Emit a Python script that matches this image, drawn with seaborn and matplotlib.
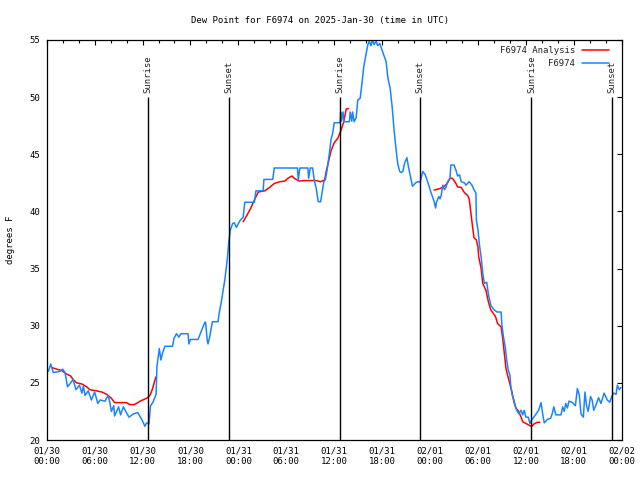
import matplotlib
matplotlib.use('Agg')
import pandas as pd
import matplotlib.pyplot as plt
from matplotlib.ticker import MultipleLocator, FixedLocator, FixedFormatter
import seaborn as sns

# Observaciones F6974 (horas desde 2025-01-30 00:00 UTC, punto de rocío en F)
obs_hours = [0.2, 0.5, 0.83, 1.66, 2.0, 2.3, 2.6, 2.9, 3.3, 3.66, 4.1, 4.4, 4.6, 4.8,
             5.2, 5.6, 6.0, 6.4, 6.7, 7.3, 7.7, 7.9, 8.1, 8.4, 8.5, 9.0, 9.25, 9.6,
             9.9, 10.3, 10.9, 11.4, 11.9, 12.3, 12.5, 12.8, 13.0, 13.3, 13.7, 13.8,
             14.1, 14.3, 14.5, 14.8, 15.75, 15.95, 16.25, 16.55, 16.8, 17.7, 17.8,
             18.0, 18.95, 19.8, 19.9, 20.1, 20.2, 20.4, 20.75, 21.45, 21.6, 21.9,
             22.1, 22.3, 22.6, 22.8, 23.0, 23.3, 23.5, 23.75, 24.2, 24.6, 24.8,
             26.0, 26.2, 27.1, 27.2, 28.3, 28.5, 31.4, 31.5, 31.7, 32.7, 32.8, 33.0,
             33.3, 33.5, 33.75, 34.0, 34.3, 34.5, 34.7, 34.9, 35.1, 35.4, 35.6,
             35.8, 36.0, 36.75, 36.8, 36.9, 37.1, 37.2, 37.9, 38.0, 38.2, 38.3,
             38.5, 38.75, 38.95, 39.25, 39.5, 39.7, 40.0, 40.2, 40.4, 40.6, 40.8,
             41.0, 41.25, 41.45, 41.7, 41.9, 42.3, 42.5, 42.7, 42.8, 43.0, 43.25,
             43.5, 43.75, 43.95, 44.2, 44.4, 44.6, 44.8, 45.1, 45.3, 45.6, 45.8,
             46.2, 46.45, 46.75, 47.1, 47.4, 47.7, 48.1, 48.3, 48.5, 48.7, 48.8,
             49.1, 49.25, 49.4, 49.6, 49.8, 50.0, 50.2, 50.5, 50.6, 51.0, 51.25,
             51.45, 51.7, 51.9, 52.3, 52.5, 52.9, 53.25, 53.5, 53.75, 53.8, 54.0,
             54.2, 54.4, 54.6, 54.8, 55.1, 55.3, 55.6, 56.0, 56.4, 56.9, 57.0,
             57.2, 57.4, 57.6, 57.8, 58.0, 58.1, 58.3, 58.5, 58.75, 59.1, 59.4,
             59.6, 59.8, 60.0, 60.3, 60.5, 60.75, 61.0, 61.3, 61.6, 61.9, 62.1,
             62.3, 62.7, 63.1, 63.3, 63.5, 63.75, 64.4, 64.6, 64.8, 65.0, 65.2,
             65.4, 65.8, 66.2, 66.45, 66.7, 66.9, 67.2, 67.4, 67.6, 67.8, 68.1,
             68.3, 68.5, 68.75, 69.1, 69.4, 69.8, 70.2, 70.5, 70.75, 71.0, 71.3,
             71.45, 71.7, 71.9]
obs_dewpt = [26.0, 26.65, 25.9, 26.0, 26.2, 25.9, 24.66, 24.9, 25.3, 24.4, 24.8, 24.1,
             24.7, 23.9, 24.3, 23.5, 24.2, 23.2, 23.5, 23.4, 23.9, 23.3, 22.5, 23.0,
             22.1, 22.9, 22.2, 22.9, 22.5, 22.0, 22.3, 22.4, 21.8, 21.2, 21.5, 21.4,
             23.0, 23.3, 24.0, 26.4, 28.0, 27.0, 27.6, 28.2, 28.2, 28.9, 29.3, 29.0,
             29.3, 29.3, 28.4, 28.8, 28.8, 30.3, 30.3, 28.7, 28.4, 29.0, 30.35,
             30.35, 31.1, 32.25, 33.1, 34.0, 35.75, 37.35, 38.4, 38.96, 39.0, 38.6,
             39.2, 39.5, 40.8, 40.8, 41.8, 41.8, 42.8, 42.8, 43.8, 43.8, 42.75,
             43.8, 43.8, 42.9, 43.8, 43.8, 42.75, 42.0, 40.85, 40.85, 41.7, 42.6,
             42.8, 43.6, 45.1, 46.3, 46.8, 47.76, 47.76, 48.7, 47.9, 48.7, 47.85,
             47.85, 48.7, 47.9, 48.7, 47.85, 48.2, 49.75, 49.9, 51.35, 52.66, 53.8,
             54.56, 54.9, 54.5, 55.0, 54.6, 54.9, 54.5, 54.7, 54.3, 53.5, 53.1,
             51.8, 51.4, 50.8, 49.2, 47.1, 45.4, 44.2, 43.5, 43.4, 43.5, 44.2,
             44.7, 43.9, 42.9, 42.2, 42.5, 42.6, 42.55, 43.5, 43.2, 42.6, 41.7,
             41.3, 40.9, 40.3, 40.8, 41.3, 41.1, 41.4, 42.3, 41.9, 42.1, 42.6,
             42.9, 44.06, 44.06, 43.6, 43.1, 43.2, 42.6, 42.5, 42.3, 42.6, 42.3,
             41.9, 41.6, 39.25, 38.4, 37.0, 36.0, 34.6, 33.7, 33.8, 32.8, 31.8,
             31.4, 31.2, 31.2, 30.06, 29.0, 28.2, 27.0, 26.1, 25.7, 24.8, 23.9,
             23.5, 22.77, 22.3, 22.6, 22.2, 22.6, 22.0, 22.0, 21.45, 21.8, 22.0,
             22.3, 22.6, 23.27, 22.3, 21.5, 21.8, 21.9, 22.3, 22.9, 22.2, 22.2,
             22.9, 22.5, 23.2, 22.8, 23.4, 23.3, 23.0, 24.5, 23.9, 22.3, 22.0,
             24.2, 23.0, 22.5, 23.8, 23.5, 22.6, 23.0, 23.7, 23.2, 24.1, 23.5,
             23.3, 23.8, 24.1, 24.0, 24.8, 24.4, 24.6]

# Análisis F6974 (tres tramos)
ana1_hours = [0.6, 1.25, 1.9, 2.5, 3.0, 3.3, 3.75, 4.4, 5.0, 5.4, 6.25, 6.9, 7.5, 8.1,
              8.5, 10.0, 10.4, 11.0, 11.7, 12.5, 12.8, 13.0, 13.3, 13.65]
ana1_dewpt = [26.35, 26.2, 26.07, 25.77, 25.6, 25.3, 25.0, 24.9, 24.66, 24.4, 24.3,
              24.2, 24.0, 23.65, 23.27, 23.27, 23.1, 23.1, 23.4, 23.65, 23.8, 24.0,
              24.6, 25.5]
ana2_hours = [24.6, 25.1, 25.6, 26.0, 26.5, 27.3, 27.9, 28.5, 29.2, 29.8, 30.2, 30.7,
              31.0, 31.6, 32.3, 33.1, 33.75, 34.3, 34.8, 35.0, 35.3, 35.6, 36.0,
              36.45, 36.75, 37.2, 37.5, 37.8]
ana2_dewpt = [39.1, 39.7, 40.35, 41.0, 41.7, 41.8, 42.1, 42.45, 42.6, 42.65, 42.9,
              43.1, 42.9, 42.66, 42.7, 42.7, 42.7, 42.6, 42.75, 43.5, 44.4, 45.3,
              46.0, 46.4, 46.9, 47.85, 48.96, 49.0]
ana3_hours = [48.5, 49.25, 49.8, 50.2, 50.5, 50.8, 51.2, 51.45, 51.9, 52.3, 52.7,
              52.9, 53.1, 53.3, 53.5, 53.8, 54.0, 54.1, 54.4, 54.6, 55.0, 55.3,
              55.6, 56.2, 56.45, 56.9, 57.1, 57.3, 57.5, 57.7, 58.0, 58.25, 58.5,
              58.75, 59.1, 59.4, 59.6, 60.0, 60.4, 60.7, 61.0, 61.45, 61.75]
ana3_dewpt = [41.87, 42.0, 42.2, 42.5, 42.9, 42.9, 42.5, 42.15, 42.1, 41.65, 41.4,
              41.1, 39.97, 38.8, 37.7, 37.5, 36.9, 36.0, 35.0, 33.7, 33.1, 32.1,
              31.4, 30.8, 30.2, 29.9, 28.9, 27.6, 26.3, 25.7, 24.9, 24.2, 23.35,
              22.8, 22.5, 22.0, 21.6, 21.45, 21.3, 21.17, 21.4, 21.55, 21.55]

sun_hours = [12.7, 22.85, 36.75, 46.7, 60.7, 70.75]
sun_labels = ['Sunrise', 'Sunset', 'Sunrise', 'Sunset', 'Sunrise', 'Sunset']

tick_hours = [0, 6, 12, 18, 24, 30, 36, 42, 48, 54, 60, 66, 72]
tick_labels = ['01/30\n00:00', '01/30\n06:00', '01/30\n12:00', '01/30\n18:00',
               '01/31\n00:00', '01/31\n06:00', '01/31\n12:00', '01/31\n18:00',
               '02/01\n00:00', '02/01\n06:00', '02/01\n12:00', '02/01\n18:00',
               '02/02\n00:00']

FS = 6.5

sns.set_style('white')
plt.rcParams['font.family'] = ['DejaVu Sans Mono', 'DejaVu Sans']
plt.rcParams['font.size'] = FS

obs = pd.DataFrame({'hora': obs_hours, 'dewpt': obs_dewpt})
ana = pd.concat([
    pd.DataFrame({'hora': ana1_hours, 'dewpt': ana1_dewpt, 'tramo': 1}),
    pd.DataFrame({'hora': ana2_hours, 'dewpt': ana2_dewpt, 'tramo': 2}),
    pd.DataFrame({'hora': ana3_hours, 'dewpt': ana3_dewpt, 'tramo': 3}),
])

fig = plt.figure(figsize=(6.4, 4.8), dpi=100)
ax = fig.add_axes([46.7 / 640, 40 / 480, 575 / 640, 400 / 480])

sns.lineplot(data=ana, x='hora', y='dewpt', units='tramo', estimator=None,
             color='#ff0000', linewidth=1.1, label='F6974 Analysis', ax=ax)
sns.lineplot(data=obs, x='hora', y='dewpt', estimator=None, sort=False,
             color='#1a84ff', linewidth=1.1, label='F6974', ax=ax)

# Líneas de amanecer / atardecer
ax.vlines(sun_hours, 20, 50, color='black', linewidth=1.0)
for h, lab in zip(sun_hours, sun_labels):
    ax.text(h, 50.4, lab, rotation=90, ha='center', va='bottom', fontsize=FS)

ax.set_xlim(0, 72)
ax.set_ylim(20, 55)
ax.xaxis.set_major_locator(FixedLocator(tick_hours))
ax.xaxis.set_major_formatter(FixedFormatter(tick_labels))
ax.xaxis.set_minor_locator(MultipleLocator(2))
ax.yaxis.set_major_locator(MultipleLocator(5))
ax.tick_params(which='both', direction='in', top=True, right=True, color='black')
ax.tick_params(which='major', length=3.5, width=0.8, pad=5, labelsize=FS,
               labelcolor='black')
ax.tick_params(which='minor', length=2, width=0.8)
for s in ax.spines.values():
    s.set_color('black')
    s.set_linewidth(0.9)

ax.set_xlabel('')
ax.set_ylabel('degrees F', fontsize=FS, labelpad=10, color='black')
fig.suptitle('Dew Point for F6974 on 2025-Jan-30 (time in UTC)', fontsize=FS,
             x=0.5, y=1 - 20 / 480, va='center', color='black')

# Leyenda sin duplicados (los tramos del análisis dan varias entradas)
handles, labels = ax.get_legend_handles_labels()
uniq = dict(zip(labels, handles))
ax.legend(list(uniq.values()), list(uniq.keys()), loc='upper right', frameon=False,
          bbox_to_anchor=(1 - 6 / 575, 1.0), markerfirst=False, handlelength=3.0,
          handletextpad=0.8, labelspacing=0.45, borderaxespad=0.3, fontsize=FS)

plt.savefig('out.png', dpi=100)
